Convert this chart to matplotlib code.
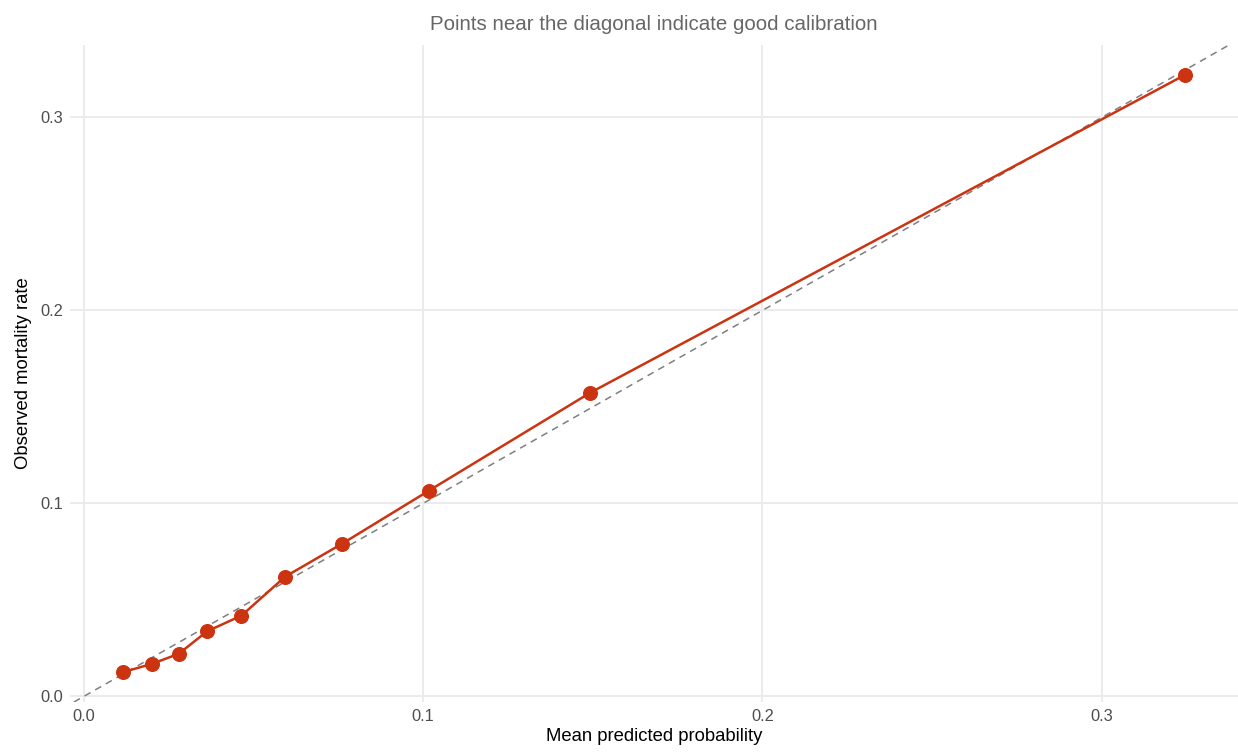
import matplotlib
matplotlib.use("Agg")
import matplotlib.pyplot as plt

# calibration bins: mean predicted vs observed
mean_pred = [0.0116, 0.0201, 0.0280, 0.0364, 0.0465, 0.0594, 0.0762, 0.1018, 0.1493, 0.3245]
observed = [0.0126, 0.0169, 0.0221, 0.0338, 0.0419, 0.0621, 0.0792, 0.1067, 0.1574, 0.3220]
ticks = [0.0, 0.1, 0.2, 0.3]
tick_labels = ["0.0", "0.1", "0.2", "0.3"]

plt.rcParams['font.family'] = ['Liberation Sans', 'DejaVu Sans']

fig = plt.figure(figsize=(12.38, 7.56), dpi=100)
ax = fig.add_axes([0.0565, 0.0714, 0.9435, 0.869])

ax.axline((0, 0), slope=1, color='#7f7f7f', linestyle=(0, (4.5, 3.5)), linewidth=1.1, zorder=2)
ax.plot(mean_pred, observed, color='#cc3311', linewidth=1.8, marker='o', markersize=9.8, zorder=3)

# ggplot-like 5% expansion
xr = max(mean_pred) - min(mean_pred)
yr = max(observed) - min(observed)
ax.set_xlim(min(mean_pred) - 0.05 * xr, max(mean_pred) + 0.05 * xr)
ax.set_ylim(min(observed) - 0.05 * yr, max(observed) + 0.05 * yr)

ax.set_xticks(ticks)
ax.set_xticklabels(tick_labels)
ax.set_yticks(ticks)
ax.set_yticklabels(tick_labels)

ax.grid(True, color='#ebebeb', linewidth=1.4)
ax.set_axisbelow(True)
for s in ax.spines.values():
    s.set_visible(False)
ax.tick_params(length=0, labelsize=11.8, labelcolor='#4d4d4d', pad=5)

ax.set_xlabel("Mean predicted probability", fontsize=13.3, labelpad=3)
ax.set_ylabel("Observed mortality rate", fontsize=13.3, labelpad=6)
ax.set_title("Points near the diagonal indicate good calibration", fontsize=14.8, color='#666666', pad=11)

fig.savefig("out.png", dpi=100)
